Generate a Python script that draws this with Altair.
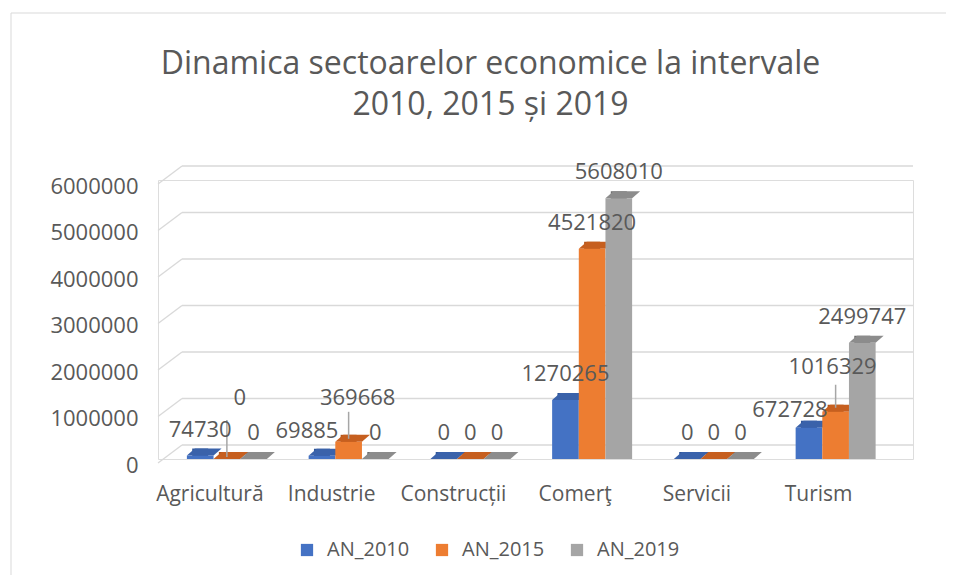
import altair as alt
import pandas as pd

# ---- data ----
categories = ["Agricultură", "Industrie", "Construcții", "Comerţ", "Servicii", "Turism"]
years = ["AN_2010", "AN_2015", "AN_2019"]
an_2010 = [74730, 69885, 0, 1270265, 0, 672728]
an_2015 = [0, 369668, 0, 4521820, 0, 1016329]
an_2019 = [0, 0, 0, 5608010, 0, 2499747]
y_ticks = [0, 1000000, 2000000, 3000000, 4000000, 5000000, 6000000]
title_lines = ["Dinamica sectoarelor economice la intervale", "2010, 2015 și 2019"]

front_colors = ["#4472C4", "#ED7D31", "#A5A5A5"]
top_colors = ["#3A62AA", "#C65F1F", "#8C8C8C"]
side_colors = ["#2F5597", "#B0531A", "#6E6E6E"]

rows = []
for i, c in enumerate(categories):
    for yr, vals in zip(years, [an_2010, an_2015, an_2019]):
        rows.append({"sector": c, "an": yr, "valoare": vals[i]})
df = pd.DataFrame(rows)
grid_df = pd.DataFrame({"valoare": y_ticks})
frame_df = pd.DataFrame({"k": [0]})

W, H = 755, 279
FONT = "Open Sans"
TXT = "#595959"

x_scale = alt.Scale(domain=categories, range=[8, 738.5], paddingInner=0.343, paddingOuter=0.1715)
xo_scale = alt.Scale(domain=years, paddingInner=0, paddingOuter=0)
y_scale = alt.Scale(domain=[0, 6000000], nice=False, zero=True)

x_axis = alt.Axis(title=None, labelFont=FONT, labelFontSize=21, labelColor=TXT,
                  labelPadding=24, labelOffset=-17, labelAngle=0,
                  domain=False, ticks=False, grid=False)
y_axis = alt.Axis(title=None, values=y_ticks, format="d", labelFont=FONT,
                  labelFontSize=22, labelColor=TXT, labelPadding=20, labelOffset=6,
                  domain=False, ticks=False, grid=False)

X = alt.X("sector:N", scale=x_scale, sort=categories, axis=x_axis)
XO = alt.XOffset("an:N", scale=xo_scale, sort=years)
Y = alt.Y("valoare:Q", scale=y_scale, axis=y_axis)

base = alt.Chart(df)

# chart-area frame (decoration): top and left edges, the others lie outside the picture
frame_top = alt.Chart(frame_df).mark_rule(color="#D9D9D9", strokeWidth=1).encode(
    x=alt.value(-147), x2=alt.value(800), y=alt.value(-167))
frame_left = alt.Chart(frame_df).mark_rule(color="#D9D9D9", strokeWidth=1).encode(
    x=alt.value(-147), y=alt.value(-167), y2=alt.value(420))

# 3D back-wall gridlines
grid_h = alt.Chart(grid_df).mark_rule(color="#D9D9D9", strokeWidth=1.3, yOffset=-14).encode(
    y=Y, x=alt.value(24), x2=alt.value(W))
grid_d = alt.Chart(grid_df).mark_rule(color="#D9D9D9", strokeWidth=1.3, yOffset=4, y2Offset=-14).encode(
    y=Y, y2="valoare:Q", x=alt.value(0), x2=alt.value(24))

# side faces of the 3D bars (left half hidden behind the front face)
sides = base.transform_calculate(baza="0").mark_rule(strokeWidth=16, yOffset=-7, y2Offset=-3).encode(
    x=X,
    xOffset=alt.XOffset("an:N", scale=xo_scale, sort=years, bandPosition=1),
    y=Y, y2="baza:Q",
    color=alt.Color("an:N", scale=alt.Scale(domain=years, range=side_colors), legend=None))

# top faces (parallelograms)
tops = base.mark_point(shape="M-0.625,0L0.625,0L1,-0.328L-0.25,-0.328Z", size=1823,
                       filled=True, opacity=1, strokeWidth=0).encode(
    x=X, xOffset=XO, y=Y,
    color=alt.Color("an:N", scale=alt.Scale(domain=years, range=top_colors), legend=None))

# front faces
bars = base.mark_bar().encode(
    x=X, xOffset=XO, y=Y,
    color=alt.Color("an:N", sort=years, scale=alt.Scale(domain=years, range=front_colors),
                    legend=alt.Legend(title=None, orient="none", legendX=139, legendY=360,
                                      direction="horizontal", symbolType="square", symbolSize=150,
                                      symbolStrokeWidth=0, labelFont=FONT, labelFontSize=20,
                                      labelColor=TXT, labelOffset=10, columnPadding=22)))

# leader lines for moved labels
def leader(sector, an, bp, y_from, y_to):
    return base.transform_filter(
        (alt.datum.sector == sector) & (alt.datum.an == an)
    ).mark_rule(color="#A6A6A6", strokeWidth=1.5, yOffset=y_from, y2Offset=y_to).encode(
        x=X,
        xOffset=alt.XOffset("an:N", scale=xo_scale, sort=years, bandPosition=bp),
        y=Y, y2="valoare:Q",
        color=alt.value("#A6A6A6"))

leaders = [
    leader("Agricultură", "AN_2015", 0.6, -2, -39),
    leader("Industrie", "AN_2015", 0.63, -3, -30),
    leader("Turism", "AN_2015", 0.4, -4, -27),
]

# data labels
moved = [
    ("Agricultură", "AN_2015", 13, -61),
    ("Industrie", "AN_2010", -15, -25),
    ("Industrie", "AN_2015", 9, -44),
    ("Turism", "AN_2010", -19, -18),
    ("Turism", "AN_2015", -3, -45),
]

def label_layer(filt, dx, dy):
    return base.transform_filter(filt).mark_text(
        font=FONT, fontSize=22, color=TXT, dx=dx, dy=dy, baseline="middle", align="center").encode(
        x=X, xOffset=XO, y=Y, text=alt.Text("valoare:Q", format="d"))

not_moved = " && ".join(
    f"!(datum.sector == '{s}' && datum.an == '{a}')" for s, a, _, _ in moved)
labels = [label_layer(not_moved, 0, -26)]
for s, a, dx, dy in moved:
    labels.append(label_layer((alt.datum.sector == s) & (alt.datum.an == a), dx, dy))

chart = alt.layer(frame_top, frame_left, grid_d, grid_h, sides, tops, bars, *leaders, *labels).resolve_scale(
    color="independent"
).properties(
    width=W, height=H,
    title=alt.Title(text=title_lines, font=FONT, fontSize=32, fontWeight="normal", color=TXT,
                    anchor="middle", frame="group", dx=-45, offset=-109, lineHeight=41),
    autosize=alt.AutoSizeParams(type="none"),
    padding={"left": 150, "top": 172, "right": 33, "bottom": 116},
).configure_view(stroke=None).configure(background="white")

chart.save("out.html", embed_options={"renderer": "svg", "actions": False})
